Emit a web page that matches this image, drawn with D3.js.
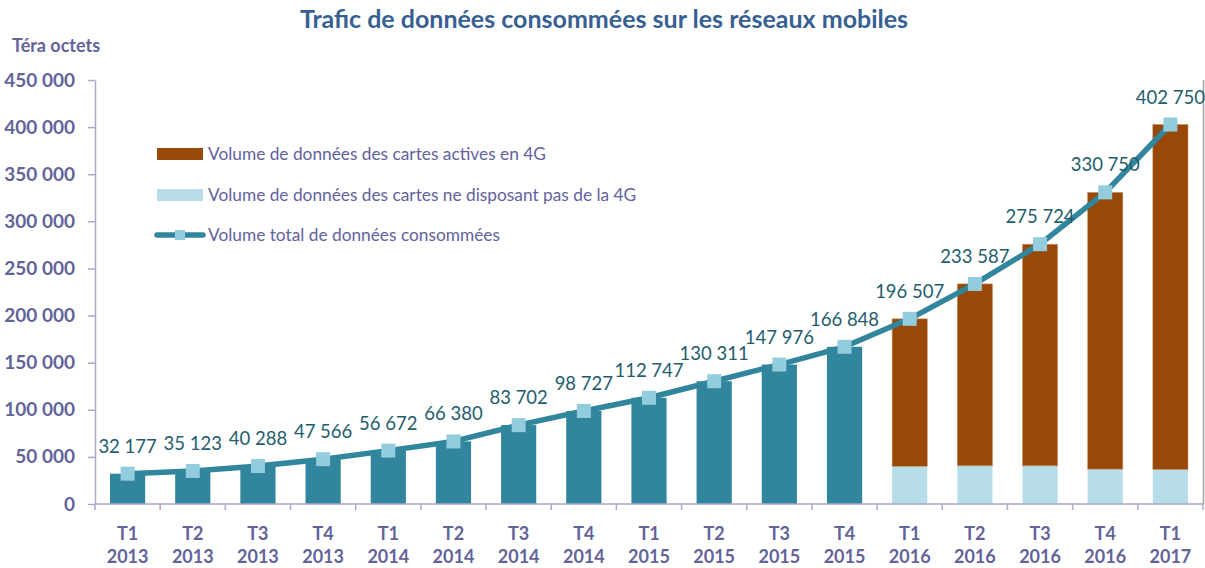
<!DOCTYPE html>
<html>
<head>
<meta charset="utf-8">
<script src="https://cdn.jsdelivr.net/npm/d3@7"></script>
<style>
  body { margin: 0; background: #fff; }
  svg { font-family: Lato, "Open Sans", sans-serif; }
</style>
</head>
<body>
<div id="wrapper"></div>
<script>
const quarters = ["T1","T2","T3","T4","T1","T2","T3","T4","T1","T2","T3","T4","T1","T2","T3","T4","T1"]
const years = ["2013","2013","2013","2013","2014","2014","2014","2014","2015","2015","2015","2015","2016","2016","2016","2016","2017"]

// total consumed (line + labels)
const totals = [32177, 35123, 40288, 47566, 56672, 66380, 83702, 98727, 112747, 130311, 147976, 166848, 196507, 233587, 275724, 330750, 402750]
// bars before the 4G split (2013-2015)
const volumeBars = [32177, 35123, 40288, 47566, 56672, 66380, 83702, 98727, 112747, 130311, 147976, 166848, null, null, null, null, null]
// cards without 4G (light blue, bottom of stack)
const non4G = [null, null, null, null, null, null, null, null, null, null, null, null, 40000, 40500, 40500, 37000, 36500]
// cards active in 4G (brown, top of stack)
const active4G = [null, null, null, null, null, null, null, null, null, null, null, null, 156500, 193100, 235200, 293750, 366250]

const yTicks = [0, 50000, 100000, 150000, 200000, 250000, 300000, 350000, 400000, 450000]

const legendItems = [
  "Volume de données des cartes actives en 4G",
  "Volume de données des cartes ne disposant pas de la 4G",
  "Volume total de données consommées"
]

const colors = {
  teal: "#31859c",
  brown: "#984807",
  lightBlue: "#b7dee8",
  marker: "#93cddd",
  axisText: "#63639a",
  label: "#235d6c",
  title: "#376092",
  axis: "#a9a9cb"
}

const width = 1205, height = 568
const idx = d3.range(quarters.length)

const fr = d3.formatLocale({decimal: ",", thousands: " ", grouping: [3], currency: ["", ""]})
const fmt = fr.format(",d")

const svg = d3.select("#wrapper").append("svg")
    .attr("width", width)
    .attr("height", height)

const xScale = d3.scaleBand()
    .domain(idx)
    .range([95, 1203])
    .paddingInner(0.46)
    .paddingOuter(0.23)

const yScale = d3.scaleLinear()
    .domain([0, 450000])
    .range([504, 80])

const cx = i => xScale(i) + xScale.bandwidth() / 2

// title
svg.append("text")
    .attr("x", 604).attr("y", 28)
    .attr("text-anchor", "middle")
    .attr("fill", colors.title)
    .style("font-size", "25px").style("font-weight", "bold")
    .text("Trafic de données consommées sur les réseaux mobiles")

svg.append("text")
    .attr("x", 12).attr("y", 52)
    .attr("fill", colors.axisText)
    .style("font-size", "18px").style("font-weight", "bold")
    .text("Téra octets")

// right border
svg.append("line")
    .attr("x1", 1203.5).attr("x2", 1203.5)
    .attr("y1", yScale(450000)).attr("y2", yScale(0))
    .attr("stroke", "#a0a0a0").attr("stroke-width", 1.5)

// bars
const bars = svg.append("g")
bars.selectAll(".teal").data(idx.filter(i => volumeBars[i] != null)).join("rect")
    .attr("x", i => xScale(i))
    .attr("width", xScale.bandwidth())
    .attr("y", i => yScale(volumeBars[i]))
    .attr("height", i => yScale(0) - yScale(volumeBars[i]))
    .attr("fill", colors.teal)

bars.selectAll(".lb").data(idx.filter(i => non4G[i] != null)).join("rect")
    .attr("x", i => xScale(i))
    .attr("width", xScale.bandwidth())
    .attr("y", i => yScale(non4G[i]))
    .attr("height", i => yScale(0) - yScale(non4G[i]))
    .attr("fill", colors.lightBlue)

bars.selectAll(".br").data(idx.filter(i => active4G[i] != null)).join("rect")
    .attr("x", i => xScale(i))
    .attr("width", xScale.bandwidth())
    .attr("y", i => yScale(non4G[i] + active4G[i]))
    .attr("height", i => yScale(non4G[i]) - yScale(non4G[i] + active4G[i]))
    .attr("fill", colors.brown)
    .attr("stroke", "#c8976a").attr("stroke-width", 0.6)

// y axis
const yAxis = svg.append("g")
    .attr("transform", "translate(95,0)")
    .call(d3.axisLeft(yScale).tickValues(yTicks).tickFormat(fmt).tickSize(7).tickSizeOuter(0).tickPadding(13))
yAxis.select(".domain").attr("stroke", colors.axis).attr("stroke-width", 1.5)
yAxis.selectAll(".tick line").attr("stroke", colors.axis).attr("stroke-width", 1.5)
yAxis.selectAll(".tick text")
    .attr("fill", colors.axisText)
    .style("font-size", "19px").style("font-weight", "bold")
    .style("font-family", "Lato, sans-serif")

// x axis
const xAxis = svg.append("g")
xAxis.append("line")
    .attr("x1", 95).attr("x2", 1203)
    .attr("y1", yScale(0)).attr("y2", yScale(0))
    .attr("stroke", colors.axis).attr("stroke-width", 1.5)
xAxis.selectAll(".xt").data(d3.range(quarters.length + 1)).join("line")
    .attr("x1", i => 95 + i * xScale.step()).attr("x2", i => 95 + i * xScale.step())
    .attr("y1", yScale(0)).attr("y2", yScale(0) + 6)
    .attr("stroke", colors.axis).attr("stroke-width", 1.5)
const xl = xAxis.selectAll(".xl").data(idx).join("text")
    .attr("x", i => cx(i))
    .attr("text-anchor", "middle")
    .attr("fill", colors.axisText)
    .style("font-size", "18px").style("font-weight", "bold")
xl.append("tspan").attr("x", i => cx(i)).attr("y", 540).text(i => quarters[i])
xl.append("tspan").attr("x", i => cx(i)).attr("y", 563).text(i => years[i])

// total line
const lineGen = d3.line()
    .x(i => cx(i))
    .y(i => yScale(totals[i]))
svg.append("path")
    .attr("d", lineGen(idx))
    .attr("fill", "none")
    .attr("stroke", colors.teal)
    .attr("stroke-width", 5.5)
    .attr("stroke-linejoin", "round")

svg.selectAll(".mk").data(idx).join("rect")
    .attr("x", i => cx(i) - 7)
    .attr("y", i => yScale(totals[i]) - 7)
    .attr("width", 14).attr("height", 14)
    .attr("fill", colors.marker)

svg.selectAll(".dl").data(idx).join("text")
    .attr("x", i => cx(i))
    .attr("y", i => yScale(totals[i]) - 21)
    .attr("text-anchor", "middle")
    .attr("fill", colors.label)
    .style("font-size", "18.5px")
    .text(i => fmt(totals[i]))

// legend
const legend = svg.append("g").attr("transform", "translate(157,0)")
const legendY = [154, 195, 235]
legend.append("rect").attr("x", 0).attr("y", legendY[0] - 6).attr("width", 46).attr("height", 12).attr("fill", colors.brown)
legend.append("rect").attr("x", 0).attr("y", legendY[1] - 6).attr("width", 46).attr("height", 12).attr("fill", colors.lightBlue)
legend.append("line").attr("x1", 0).attr("x2", 46).attr("y1", legendY[2]).attr("y2", legendY[2])
    .attr("stroke", colors.teal).attr("stroke-width", 5.5).attr("stroke-linecap", "round")
legend.append("rect").attr("x", 18).attr("y", legendY[2] - 5).attr("width", 10).attr("height", 10).attr("fill", colors.marker)
legend.selectAll(".lt").data(legendItems).join("text")
    .attr("x", 51)
    .attr("y", (d, i) => legendY[i] + 6)
    .attr("fill", "#6262a0")
    .style("font-size", "17.3px")
    .text(d => d)
</script>
</body>
</html>
